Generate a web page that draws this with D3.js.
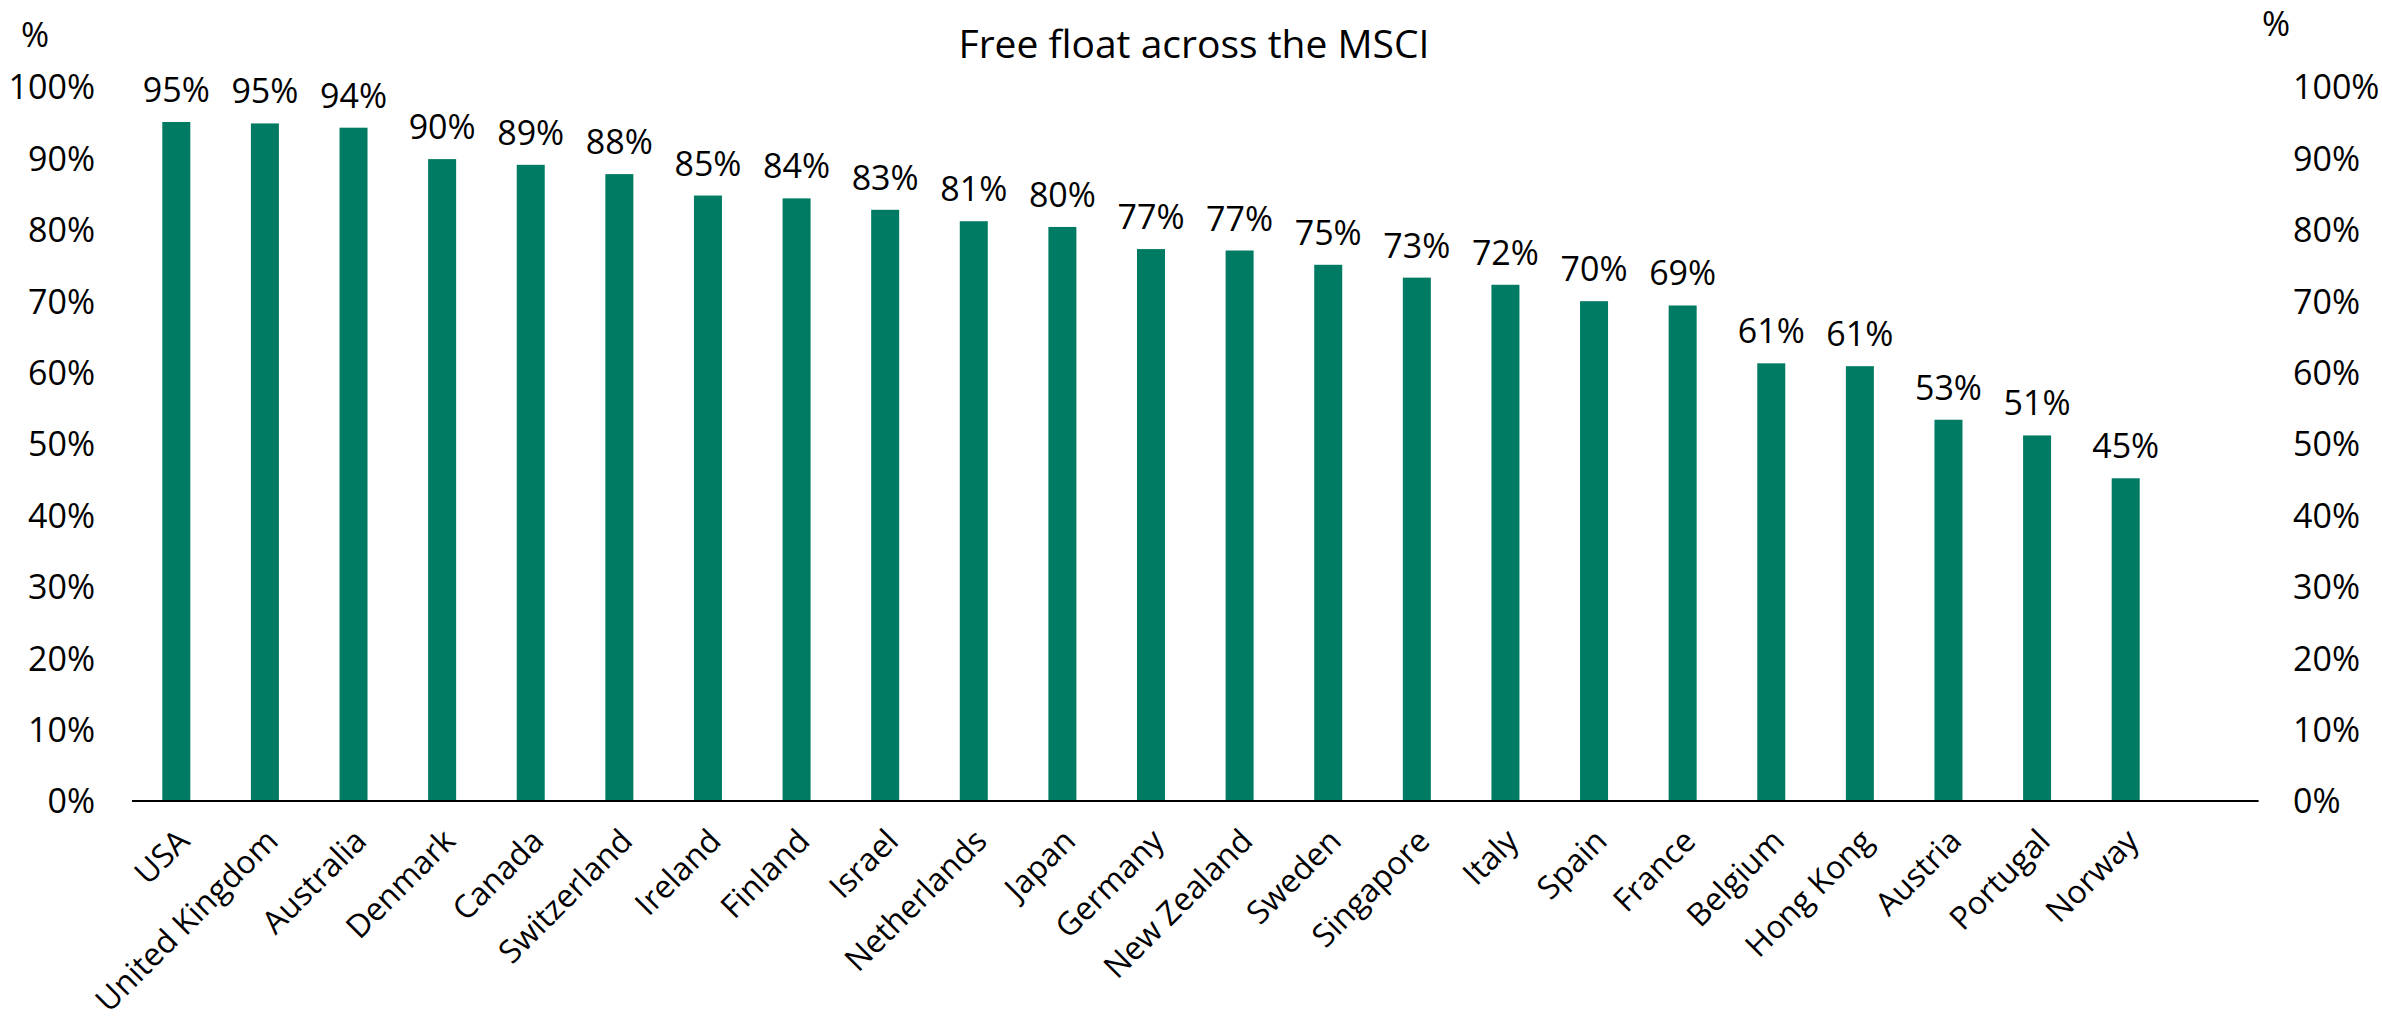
<!DOCTYPE html>
<html>
<head>
<meta charset="utf-8">
<script src="https://cdn.jsdelivr.net/npm/d3@7"></script>
<style>
  body { margin: 0; background: #fff; }
  svg text { font-family: "Open Sans", "Noto Sans", sans-serif; fill: #000; }
</style>
</head>
<body>
<div id="chart"></div>
<script>
// free float share per country
var countries = ["USA", "United Kingdom", "Australia", "Denmark", "Canada", "Switzerland",
  "Ireland", "Finland", "Israel", "Netherlands", "Japan", "Germany", "New Zealand",
  "Sweden", "Singapore", "Italy", "Spain", "France", "Belgium", "Hong Kong",
  "Austria", "Portugal", "Norway"];
var freeFloat = [95.1, 94.9, 94.3, 89.9, 89.1, 87.8, 84.8, 84.4, 82.8, 81.2, 80.4, 77.3, 77.1,
  75.1, 73.3, 72.3, 70.0, 69.4, 61.3, 60.9, 53.4, 51.2, 45.2];
var yTicks = [0, 10, 20, 30, 40, 50, 60, 70, 80, 90, 100];
var title = "Free float across the MSCI";

var width = 2382, height = 1026;
var fontSize = 34;

var svg = d3.select("#chart").append("svg")
  .attr("width", width)
  .attr("height", height);

var data = countries.map(function(c, i) { return {name: c, value: freeFloat[i]}; });

var x = d3.scaleBand()
  .domain(countries)
  .range([132, 2170])
  .paddingInner(0.684)
  .paddingOuter(0.342);

var y = d3.scaleLinear()
  .domain([0, 100])
  .range([801, 87]);

var fmt = function(d) { return d + "%"; };

// left axis
var yAxisL = d3.axisLeft(y).tickValues(yTicks).tickFormat(fmt).tickSize(0).tickPadding(0);
var gl = svg.append("g").attr("transform", "translate(95,0)").call(yAxisL);
gl.select(".domain").remove();
gl.selectAll("text").style("font-size", fontSize + "px").attr("dy", "0.35em");

// right axis
var yAxisR = d3.axisRight(y).tickValues(yTicks).tickFormat(fmt).tickSize(0).tickPadding(0);
var gr = svg.append("g").attr("transform", "translate(2293,0)").call(yAxisR);
gr.select(".domain").remove();
gr.selectAll("text").style("font-size", fontSize + "px").attr("dy", "0.35em");

// unit labels
svg.append("text").attr("x", 35).attr("y", 47).attr("text-anchor", "middle")
  .style("font-size", fontSize + "px").text("%");
svg.append("text").attr("x", 2276).attr("y", 36).attr("text-anchor", "middle")
  .style("font-size", fontSize + "px").text("%");

// title
svg.append("text").attr("x", 1194).attr("y", 58).attr("text-anchor", "middle")
  .style("font-size", "39px").text(title);

// bars
svg.selectAll("rect.bar")
  .data(data)
  .enter()
  .append("rect")
  .attr("class", "bar")
  .attr("x", function(d) { return x(d.name); })
  .attr("width", x.bandwidth())
  .attr("y", function(d) { return y(d.value); })
  .attr("height", function(d) { return y(0) - y(d.value); })
  .attr("fill", "#007B63");

// value labels
svg.selectAll("text.val")
  .data(data)
  .enter()
  .append("text")
  .attr("class", "val")
  .attr("x", function(d) { return x(d.name) + x.bandwidth() / 2; })
  .attr("y", function(d) { return y(d.value) - 20; })
  .attr("text-anchor", "middle")
  .style("font-size", fontSize + "px")
  .text(function(d) { return Math.round(d.value) + "%"; });

// baseline, runs one extra slot past the last bar
svg.append("line")
  .attr("x1", x.range()[0])
  .attr("x2", x.range()[1] + x.step())
  .attr("y1", y(0))
  .attr("y2", y(0))
  .attr("stroke", "#000")
  .attr("stroke-width", 2);

// rotated category labels
svg.selectAll("text.cat")
  .data(countries)
  .enter()
  .append("text")
  .attr("class", "cat")
  .attr("text-anchor", "end")
  .attr("dy", "0.35em")
  .style("font-size", "32px")
  .attr("transform", function(d) {
    var cx = x(d) + x.bandwidth() / 2 + 7;
    return "translate(" + cx + ",835) rotate(-45)";
  })
  .text(function(d) { return d; });
</script>
</body>
</html>
